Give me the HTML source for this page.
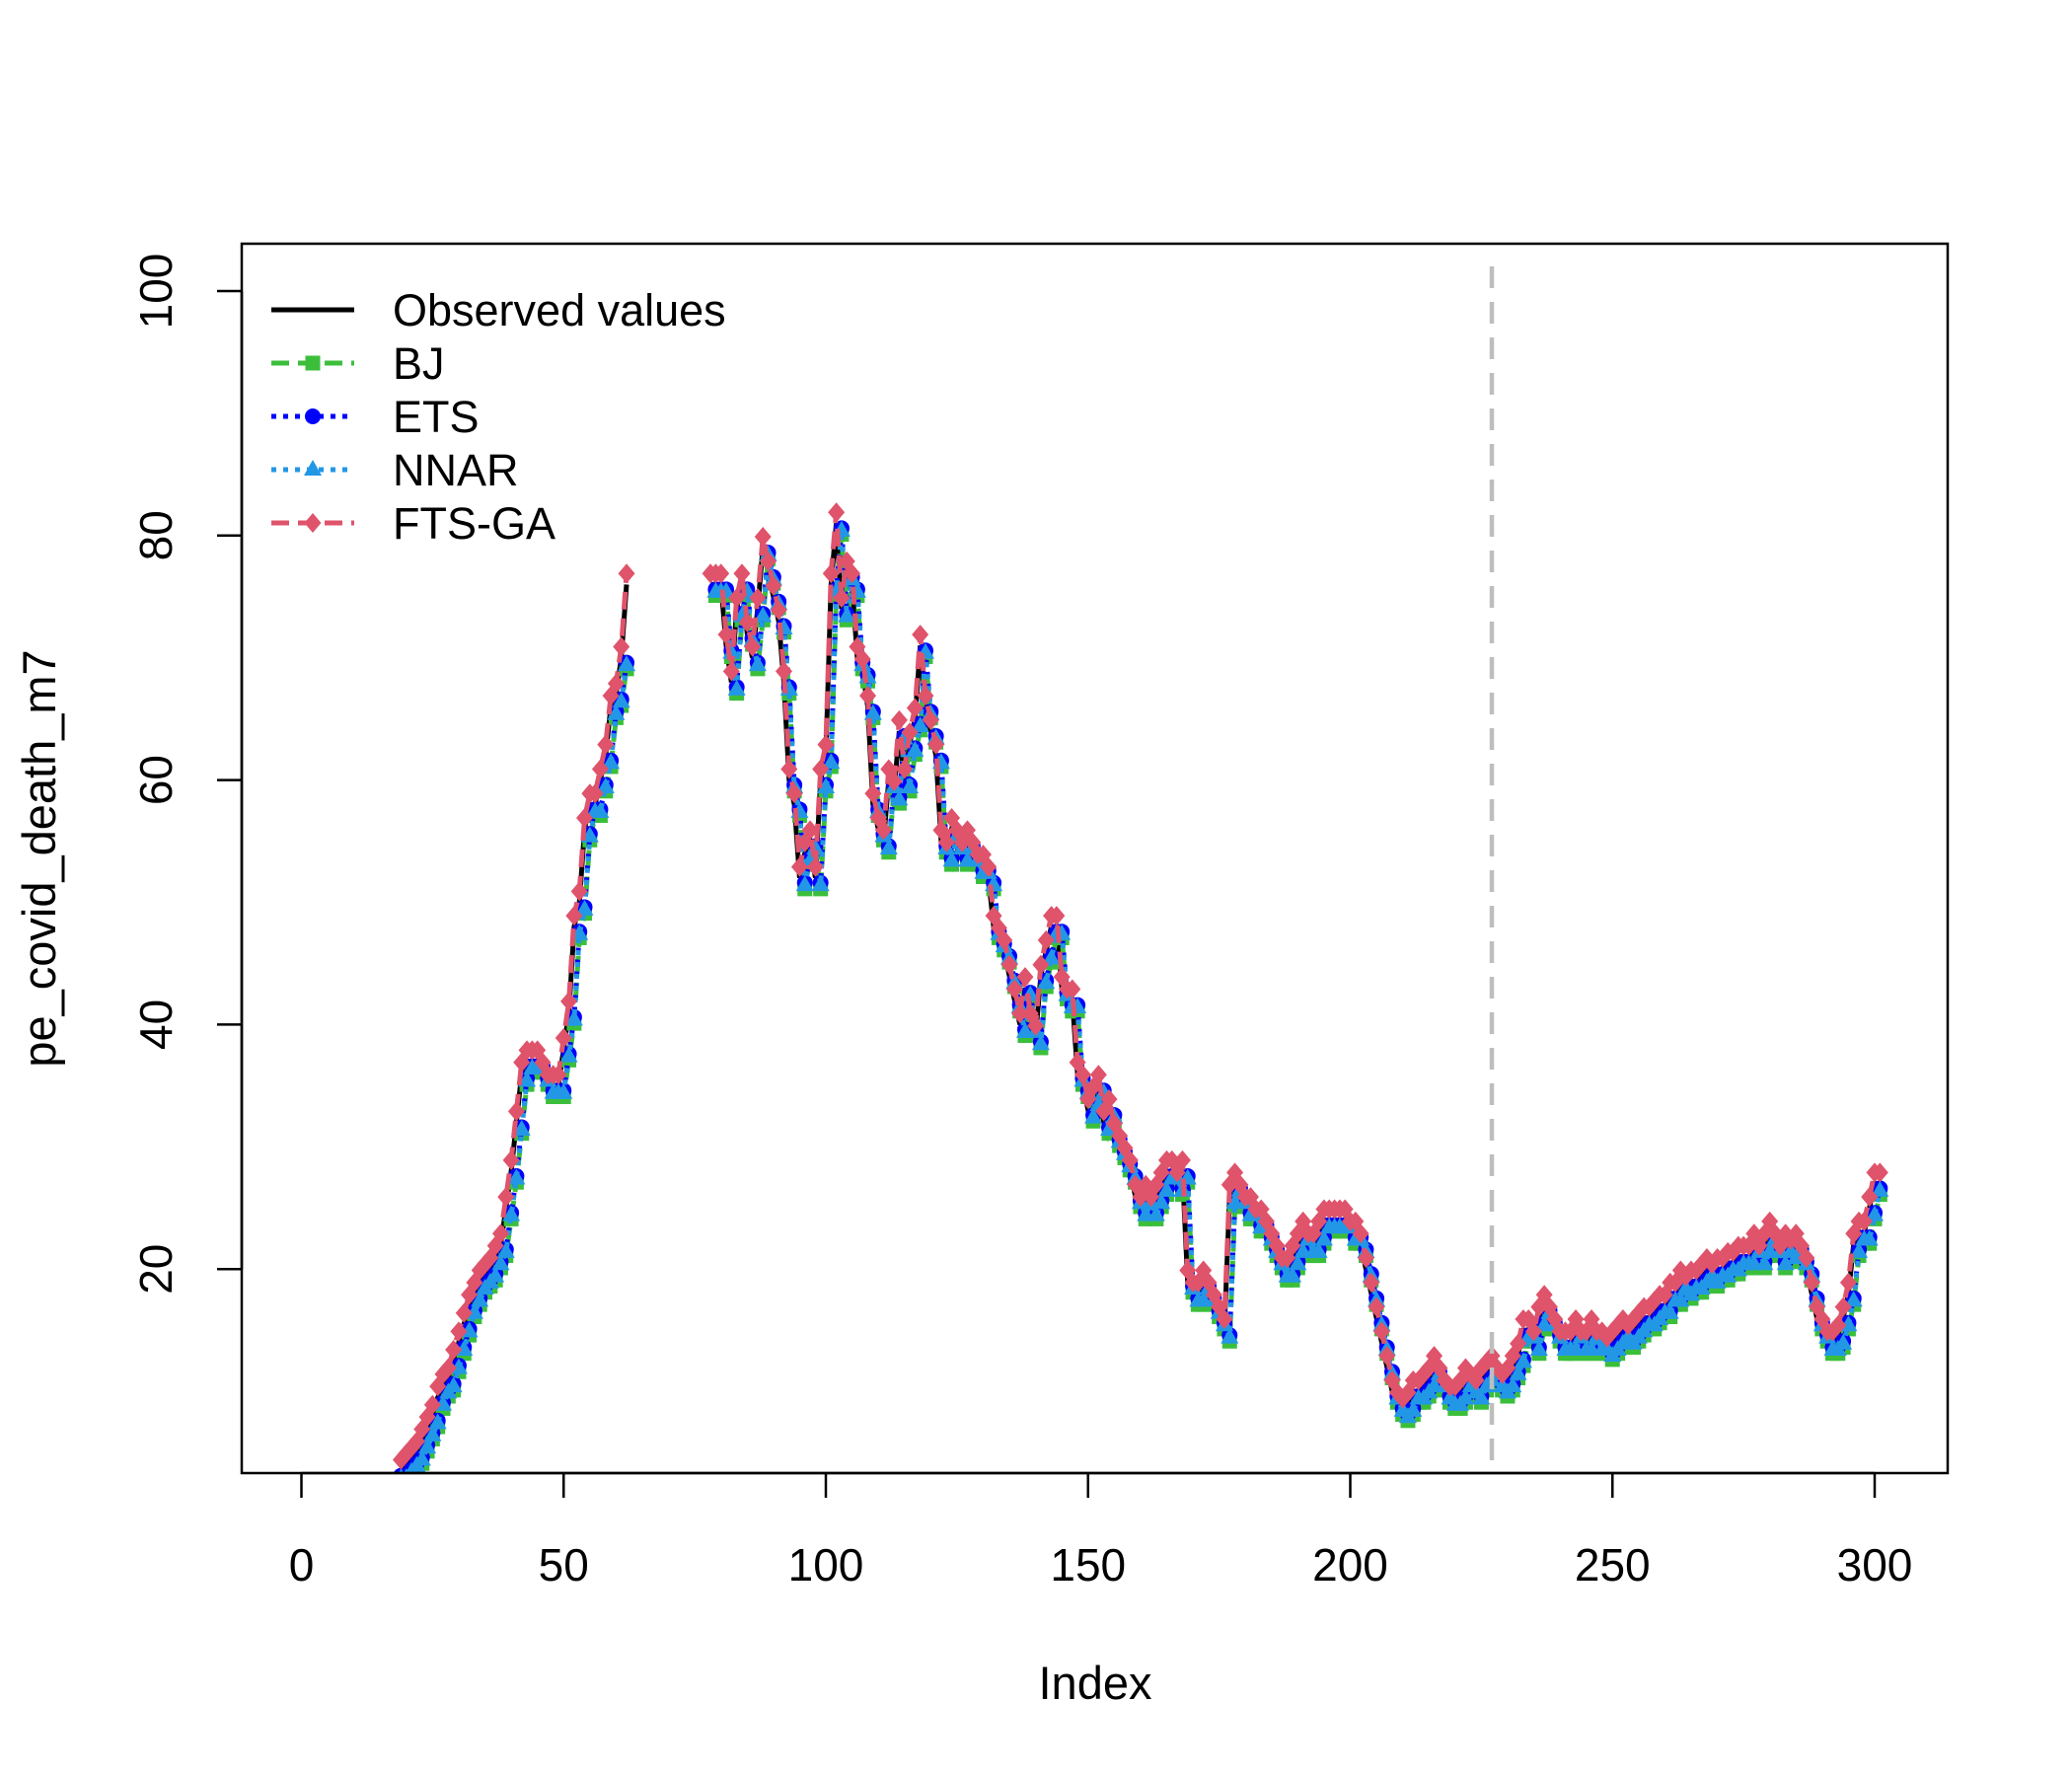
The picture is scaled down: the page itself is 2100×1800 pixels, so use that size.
<!DOCTYPE html>
<html><head><meta charset="utf-8"><style>
html,body{margin:0;padding:0;background:#fff;}
svg{display:block;font-family:"Liberation Sans",Arial,sans-serif;}
</style></head><body>
<svg id="chart" width="2100" height="1800" viewBox="0 0 2100 1800" xmlns="http://www.w3.org/2000/svg">
<rect width="2100" height="1800" fill="#fff"/>
<defs><clipPath id="pc"><rect x="245" y="247" width="1729" height="1246"/></clipPath></defs>
<g id="series" clip-path="url(#pc)"></g>
<rect x="245" y="247" width="1729" height="1246" fill="none" stroke="#000" stroke-width="2.5"/>
<g id="axes"></g>
<text x="1110" y="1722" font-size="47" text-anchor="middle">Index</text>
<text transform="translate(56,870) rotate(-90)" font-size="47" text-anchor="middle">pe_covid_death_m7</text>
<g id="legend"></g>
</svg>
<script>
const startIndex = 19;
const observed = [3.5,4,4.5,5,6,7,8,9.5,10.5,11,12.5,14,15.5,17,18,19,19.5,20,21,22,25,28,32,36,37,37,37,36,35,35,35,38,41,48,50,56,58,58,60,62,66,67,70,76,
NaN,NaN,NaN,NaN,NaN,NaN,NaN,NaN,NaN,NaN,NaN,NaN,NaN,NaN,NaN,
76,76,76,71,68,74,76,72,70,74,79,77,75,73,68,60,58,52,54,55,52,60,62,76,81,74,77,76,70,69,66,58,56,55,60,59,64,60,63,65,71,66,64,62,55,54,56,55,54,55,54,53,53,52,48,47,46,44,42,40,43,40,39,44,46,48,48,43,42,42,36,35,33,34,35,32,33,31,30,29,28,26,25,26,25,26,27,28,28,27,28,19,18,18,19,18,17,16,15,26,27,26,25,25,24,24,23,22,21,20,20,21,22,23,22,22,23,24,24,24,24,24,23,23,22,20,18,16,14,12,10,9,8.5,9,10,10,10.5,11,12,11,10,9.5,9.5,10,11,10.5,10,11,11.5,12,11,10.5,11,12,13,15,15,14,16,17,16,15,14,14,14,15,14,14,15,14,14,13.5,14,14.5,15,14.5,15,15.5,16,16,16.5,17,17,18,18,19,18.5,19,19,19.5,20,19.5,20,20,20.5,20.5,21,21,21,22,21,22,23,22,21,22,21.5,22,21,20,18,16,15,14,14,14.5,16,18,22,23,23,25,27,27];
const modelNames = ["BJ","ETS","NNAR","FTS-GA"];
const modelOffsets = [-0.9,-0.4,-0.6,0.9];
const modelLags = [1,1,1,0];
const xTicks = [0,50,100,150,200,250,300];
const yTicks = [20,40,60,80,100];
const splitIndex = 227;

const NS="http://www.w3.org/2000/svg";
const X = v => 305.5 + v*5.315;
const Y = v => 1534 - v*12.39;
function mk(tag, attrs, parent){const e=document.createElementNS(NS,tag);for(const k in attrs)e.setAttribute(k,attrs[k]);parent.appendChild(e);return e;}
const series=document.getElementById('series'), axes=document.getElementById('axes'), legend=document.getElementById('legend');

function pathFrom(vals){let d="",pen=false;vals.forEach((v,i)=>{if(isNaN(v)){pen=false;return;}d+=(pen?"L":"M")+X(startIndex+i).toFixed(1)+" "+Y(v).toFixed(1)+" ";pen=true;});return d;}
function marker(kind,x,y,col,parent){
  let e;
  if(kind==="square") e=mk('rect',{x:x-7.5,y:y-7.5,width:15,height:15,fill:col},parent);
  else if(kind==="circle") e=mk('circle',{cx:x,cy:y,r:8,fill:col},parent);
  else if(kind==="tri") e=mk('polygon',{points:`${x},${y-10} ${x+9},${y+6} ${x-9},${y+6}`,fill:col},parent);
  else e=mk('polygon',{points:`${x},${y-10} ${x+8.5},${y} ${x},${y+10} ${x-8.5},${y}`,fill:col},parent);
  return e;
}
const styles=[{c:"#3BBF3B",dash:"18,9",m:"square"},{c:"#0000FF",dash:"5,7",m:"circle"},{c:"#2297E6",dash:"5,7",m:"tri"},{c:"#DF536B",dash:"18,9",m:"diamond"}];

const ob=mk('path',{d:pathFrom(observed),fill:"none",stroke:"#000","stroke-width":5},series);



modelNames.forEach((nm,k)=>{
  const vals=observed.map((v,i)=>{const j=i-modelLags[k];const b=j>=0?observed[j]:v;return isNaN(b)||isNaN(v)?NaN:b+modelOffsets[k];});
  const g=mk('g',{},series);
  
  
  mk('path',{d:pathFrom(vals),fill:"none",stroke:styles[k].c,"stroke-width":5,"stroke-dasharray":styles[k].dash},g);
  vals.forEach((v,i)=>{if(isNaN(v))return;const p=marker(styles[k].m,X(startIndex+i),Y(v),styles[k].c,g);
    
    });
});

const vl=mk('line',{x1:X(splitIndex),x2:X(splitIndex),y1:270,y2:1493,stroke:"#bebebe","stroke-width":4.5,"stroke-dasharray":"22,14"},series);



mk('line',{x1:X(xTicks[0]),x2:X(xTicks[xTicks.length-1]),y1:1493,y2:1493,stroke:"#000","stroke-width":2.5},axes);
xTicks.forEach(t=>{mk('line',{x1:X(t),x2:X(t),y1:1493,y2:1518,stroke:"#000","stroke-width":2.5},axes);
  const tx=mk('text',{x:X(t),y:1602,"font-size":46,"text-anchor":"middle"},axes);tx.textContent=t;
  
  });
mk('line',{x1:245,x2:245,y1:Y(yTicks[0]),y2:Y(yTicks[yTicks.length-1]),stroke:"#000","stroke-width":2.5},axes);
yTicks.forEach(t=>{mk('line',{x1:220,x2:245,y1:Y(t),y2:Y(t),stroke:"#000","stroke-width":2.5},axes);
  const tx=mk('text',{transform:`translate(174,${Y(t)}) rotate(-90)`,"font-size":46,"text-anchor":"middle"},axes);tx.textContent=t;
  
  });

const legNames=["Observed values"].concat(modelNames);
legNames.forEach((nm,i)=>{
  const y=314+i*54;
  const g=mk('g',{},legend);
  
  
  if(i===0) mk('line',{x1:275,x2:359,y1:y,y2:y,stroke:"#000","stroke-width":5},g);
  else {const s=styles[i-1];mk('line',{x1:275,x2:359,y1:y,y2:y,stroke:s.c,"stroke-width":5,"stroke-dasharray":s.dash},g);marker(s.m,317,y,s.c,g);}
  const t=mk('text',{x:398,y:y+16,"font-size":45},g);t.textContent=nm;
});
</script>
</body></html>
